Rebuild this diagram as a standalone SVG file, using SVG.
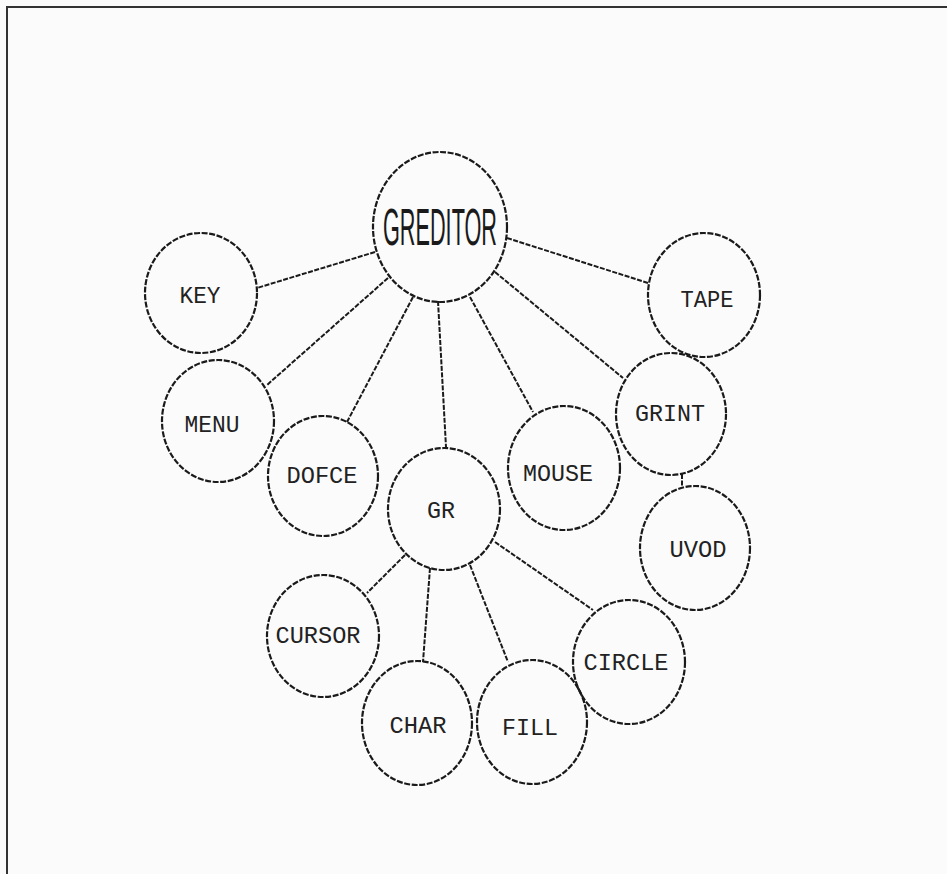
<svg xmlns="http://www.w3.org/2000/svg" width="947" height="874" viewBox="0 0 947 874">
<style>
.node{fill:none;stroke:#1a1a1a;stroke-width:2.2;stroke-dasharray:6 1.6}
.edge{fill:none;stroke:#1a1a1a;stroke-width:2;stroke-dasharray:5 1.5}
.lbl{font-family:"Liberation Mono","DejaVu Sans Mono",monospace;font-size:24px;fill:#222;text-anchor:middle}
.big{font-family:"Liberation Sans","DejaVu Sans",sans-serif;font-size:52px;fill:#1a1a1a;text-anchor:middle}
.frame{stroke:#333;stroke-width:2;fill:none}
</style>
<rect width="947" height="874" fill="#fbfbfb"/>
<path class="frame" d="M7,874 V7 H947"/>
<g id="connectors">
<line class="edge" x1="375" y1="252" x2="257" y2="288"/>
<line class="edge" x1="388" y1="278" x2="267" y2="385"/>
<line class="edge" x1="413" y1="297" x2="347" y2="422"/>
<line class="edge" x1="438" y1="301" x2="446" y2="447"/>
<line class="edge" x1="470" y1="297" x2="533" y2="412"/>
<line class="edge" x1="495" y1="272" x2="623" y2="378"/>
<line class="edge" x1="507" y1="238" x2="648" y2="283"/>
<line class="edge" x1="682" y1="474" x2="682" y2="488"/>
<line class="edge" x1="405" y1="555" x2="367" y2="593"/>
<line class="edge" x1="430" y1="568" x2="423" y2="662"/>
<line class="edge" x1="470" y1="565" x2="508" y2="662"/>
<line class="edge" x1="495" y1="542" x2="593" y2="610"/>
</g>
<g id="greditor"><ellipse class="node" cx="440" cy="227" rx="67" ry="75"/><text class="big" x="440" y="245" textLength="114" lengthAdjust="spacingAndGlyphs">GREDITOR</text></g>
<g id="key"><ellipse class="node" cx="201" cy="293" rx="56" ry="60"/><text class="lbl" x="200" y="303" textLength="41" lengthAdjust="spacingAndGlyphs">KEY</text></g>
<g id="menu"><ellipse class="node" cx="218" cy="421" rx="56" ry="61"/><text class="lbl" x="212" y="432" textLength="55" lengthAdjust="spacingAndGlyphs">MENU</text></g>
<g id="dofce"><ellipse class="node" cx="323" cy="476" rx="55" ry="60"/><text class="lbl" x="322" y="483" textLength="71" lengthAdjust="spacingAndGlyphs">DOFCE</text></g>
<g id="tape"><ellipse class="node" cx="704" cy="295" rx="56" ry="62"/><text class="lbl" x="707" y="307" textLength="53" lengthAdjust="spacingAndGlyphs">TAPE</text></g>
<g id="grint"><ellipse class="node" cx="671" cy="414" rx="55" ry="61"/><text class="lbl" x="670" y="421" textLength="70" lengthAdjust="spacingAndGlyphs">GRINT</text></g>
<g id="mouse"><ellipse class="node" cx="564" cy="468" rx="56" ry="62"/><text class="lbl" x="558" y="481" textLength="70" lengthAdjust="spacingAndGlyphs">MOUSE</text></g>
<g id="gr"><ellipse class="node" cx="444" cy="509" rx="56" ry="61"/><text class="lbl" x="441" y="518" textLength="28" lengthAdjust="spacingAndGlyphs">GR</text></g>
<g id="uvod"><ellipse class="node" cx="695" cy="548" rx="55" ry="62"/><text class="lbl" x="698" y="557" textLength="57" lengthAdjust="spacingAndGlyphs">UVOD</text></g>
<g id="cursor"><ellipse class="node" cx="323" cy="636" rx="56" ry="61"/><text class="lbl" x="318" y="643" textLength="85" lengthAdjust="spacingAndGlyphs">CURSOR</text></g>
<g id="char"><ellipse class="node" cx="417" cy="723" rx="55" ry="62"/><text class="lbl" x="418" y="733" textLength="57" lengthAdjust="spacingAndGlyphs">CHAR</text></g>
<g id="fill"><ellipse class="node" cx="532" cy="722" rx="55" ry="62"/><text class="lbl" x="530" y="735" textLength="56" lengthAdjust="spacingAndGlyphs">FILL</text></g>
<g id="circle"><ellipse class="node" cx="629" cy="662" rx="56" ry="62"/><text class="lbl" x="626" y="670" textLength="85" lengthAdjust="spacingAndGlyphs">CIRCLE</text></g>
</svg>
